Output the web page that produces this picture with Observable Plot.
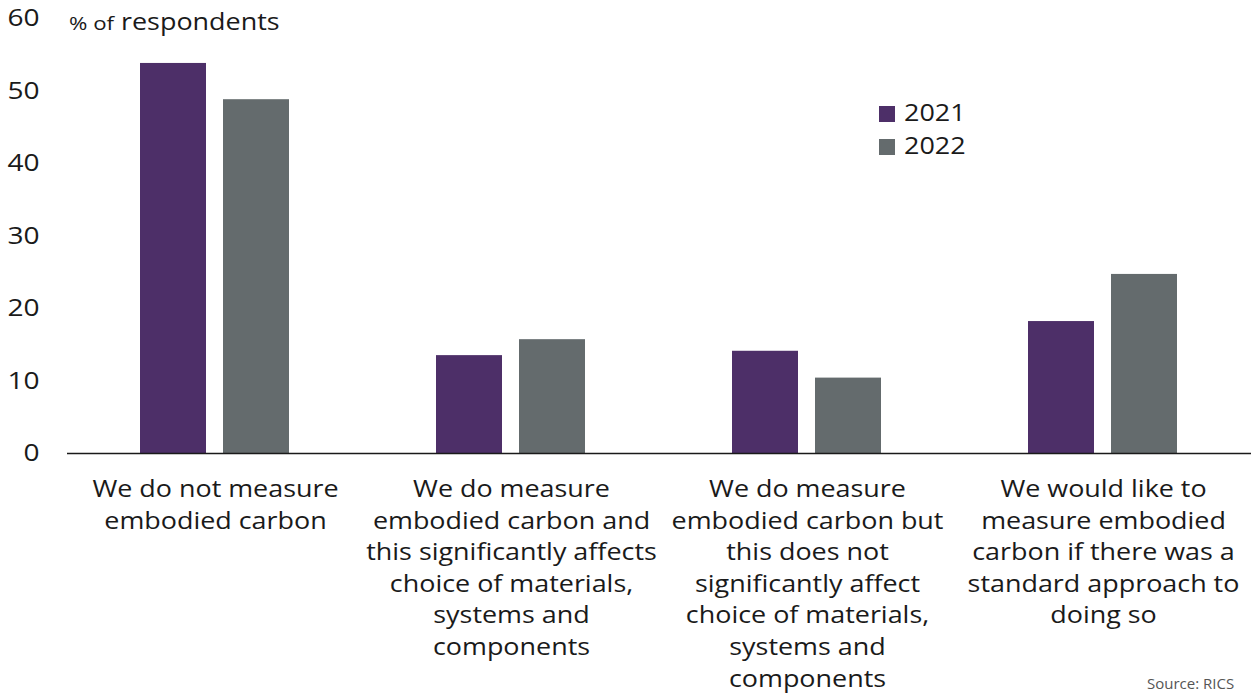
<!DOCTYPE html>
<html>
<head>
<meta charset="utf-8">
<script src="https://cdn.jsdelivr.net/npm/d3@7"></script>
<script src="https://cdn.jsdelivr.net/npm/@observablehq/plot@0.6"></script>
<style>
  body { margin: 0; background: #fff; font-family: "Open Sans", sans-serif; color: #1a1a1a; }
  #wrap { position: relative; width: 1252px; height: 694px; overflow: hidden; }
  .stretch { display: inline-block; transform: scaleX(1.17); transform-origin: left center; white-space: nowrap; }
  #ylabel { position: absolute; left: 69px; top: 5px; font-size: 23px; }
  #ylabel .small { font-size: 19px; }
  #legend { position: absolute; left: 879px; top: 96px; font-size: 23px; line-height: 33px; }
  #legend .sw { display: inline-block; width: 16px; height: 16px; margin-right: 9px; vertical-align: -1px; }
  #source { position: absolute; left: 1147px; top: 673px; font-size: 15px; color: #555; }
</style>
</head>
<body>
<div id="wrap">
  <div id="chart"></div>
  <div id="ylabel"><span class="stretch"><span class="small">% of</span> respondents</span></div>
  <div id="legend"></div>
  <div id="source"><span>Source: RICS</span></div>
</div>
<script>
const categories = [
  "We do not measure\nembodied carbon",
  "We do measure\nembodied carbon and\nthis significantly affects\nchoice of materials,\nsystems and\ncomponents",
  "We do measure\nembodied carbon but\nthis does not\nsignificantly affect\nchoice of materials,\nsystems and\ncomponents",
  "We would like to\nmeasure embodied\ncarbon if there was a\nstandard approach to\ndoing so"
];
const years = ["2021", "2022"];
const values2021 = [53.8, 13.5, 14.1, 18.2];
const values2022 = [48.8, 15.7, 10.4, 24.7];
const yTicks = [0, 10, 20, 30, 40, 50, 60];
const colors = ["#4d2f68", "#646b6d"];
const STRETCH = 1.17;

const data = [];
categories.forEach((c, i) => {
  data.push({category: c, year: years[0], value: values2021[i]});
  data.push({category: c, year: years[1], value: values2022[i]});
});

const chart = Plot.plot({
  width: 1252,
  height: 694,
  marginLeft: 66,
  marginRight: 0,
  marginTop: 18,
  marginBottom: 241,
  style: {fontFamily: "Open Sans, sans-serif", fontSize: "23px", color: "#1a1a1a", background: "#fff", overflow: "visible"},
  fx: {domain: categories, padding: 0, label: null},
  x: {domain: years, paddingInner: 0.2, paddingOuter: 0.865, axis: null},
  y: {domain: [0, 60], label: null},
  color: {domain: years, range: colors},
  marks: [
    Plot.barY(data, {fx: "category", x: "year", y: "value", fill: "year"}),
    Plot.ruleY([0], {stroke: "#1a1a1a", strokeWidth: 1.5}),
    Plot.axisY({ticks: yTicks, tickSize: 0, tickPadding: 28, line: true, label: null, fontSize: 24, stroke: "#1a1a1a"}),
    Plot.axisFx({anchor: "bottom", tickSize: 0, tickPadding: 21, label: null, fontSize: 23, lineHeight: 1.375, textOverflow: null})
  ]
});
document.getElementById("chart").appendChild(chart);

// horizontally widen the text glyphs, as in the reference typeface
chart.querySelectorAll("text").forEach(el => {
  const t = el.getAttribute("transform") || "";
  const x = el.getAttribute("x");
  if (x != null && !isNaN(+x)) el.setAttribute("x", +x / STRETCH);
  el.setAttribute("transform", (t + ` scale(${STRETCH},1)`).trim());
});

const legend = document.getElementById("legend");
years.forEach((y, i) => {
  const row = document.createElement("div");
  const sw = document.createElement("span");
  sw.className = "sw";
  sw.style.background = colors[i];
  row.appendChild(sw);
  const label = document.createElement("span");
  label.className = "stretch";
  label.textContent = y;
  row.appendChild(label);
  legend.appendChild(row);
});
</script>
</body>
</html>
